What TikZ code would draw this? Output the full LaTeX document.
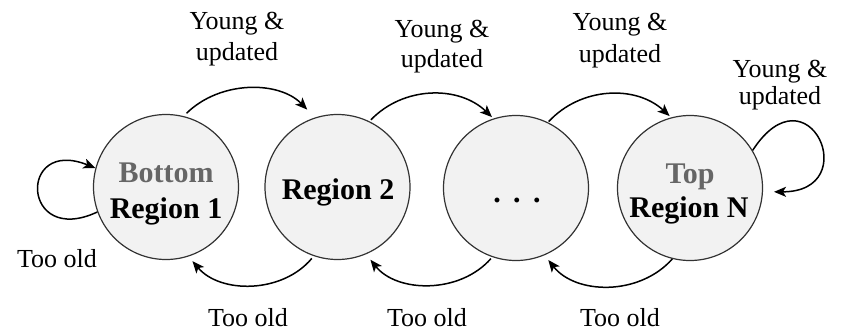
\documentclass[tikz,border=0pt]{standalone}
\usepackage{fontspec}
\setmainfont{Liberation Serif}
\usetikzlibrary{arrows.meta}
\definecolor{regionfill}{RGB}{242,242,242}
\definecolor{tiergray}{RGB}{102,102,102}
\definecolor{rim}{RGB}{51,51,51}
\tikzset{
  region/.style={circle, draw=rim, line width=1.2pt, fill=regionfill,
                 minimum size=145pt, inner sep=0pt},
  flow/.style={draw=black, line width=1.5pt,
               -{Stealth[length=12pt,width=10pt,inset=3pt]}},
  lbl/.style={font=\fontsize{26}{30}\selectfont, inner sep=0pt, anchor=base},
  rname/.style={font=\fontsize{30}{36}\selectfont\bfseries, inner sep=0pt, anchor=base},
  tier/.style={rname, text=tiergray},
}
\begin{document}
\begin{tikzpicture}[x=1pt,y=-1pt]
\useasboundingbox (0,0) rectangle (843,330);

% regions
\node[region] (r1) at (166,187) {};
\node[region] (r2) at (337.5,187) {};
\node[region] (r3) at (516,188) {};
\node[region] (r4) at (690,188) {};

% region names
\node[tier]  (r1a) at (166,182) {Bottom};
\node[rname] (r1b) at (166,218) {Region 1};
\node[rname] (r2a) at (338,199) {Region 2};
\node[rname] (r3a) at (517,202.5) {.\hspace{12.5pt}.\hspace{12.5pt}.};
\node[tier]  (r4a) at (690,183) {Top};
\node[rname] (r4b) at (689,217) {Region N};

% promotions
\draw[flow, shorten <=4pt, shorten >=11pt] (r1.76) to[bend left=45] (r2.108);
\draw[flow, shorten <=2pt, shorten >=2pt] (r2.64) to[bend left=45] (r3.108);
\draw[flow, shorten <=1pt, shorten >=2pt] (r3.64) to[bend left=45] (r4.105);
\draw[flow, shorten >=11pt] (r4.31) .. controls +(57:102pt) and +(0:102pt) .. (r4.-3);

% demotions
\draw[flow, shorten <=3pt, shorten >=6pt] (r2.-109) to[bend left=50] (r1.-72);
\draw[flow, shorten <=2pt, shorten >=7pt] (r3.-109) to[bend left=50] (r2.-67);
\draw[flow, shorten >=6pt] (r4.-104) to[bend left=50] (r3.-67);
\draw[flow] (r1.200) .. controls +(205:84pt) and +(158:84pt) .. (r1.165);

% transition labels
\node[lbl] (y1a) at (237,29) {Young \&};
\node[lbl] (y1b) at (237,60) {updated};
\node[lbl] (y2a) at (442,37) {Young \&};
\node[lbl] (y2b) at (442,67) {updated};
\node[lbl] (y3a) at (620,30) {Young \&};
\node[lbl] (y3b) at (620,62) {updated};
\node[lbl] (y4a) at (780,77) {Young \&};
\node[lbl] (y4b) at (780,104) {updated};

\node[lbl] (o0) at (57,267) {Too old};
\node[lbl] (o1) at (248,326) {Too old};
\node[lbl] (o2) at (427,326) {Too old};
\node[lbl] (o3) at (620,326) {Too old};
\end{tikzpicture}
\end{document}
